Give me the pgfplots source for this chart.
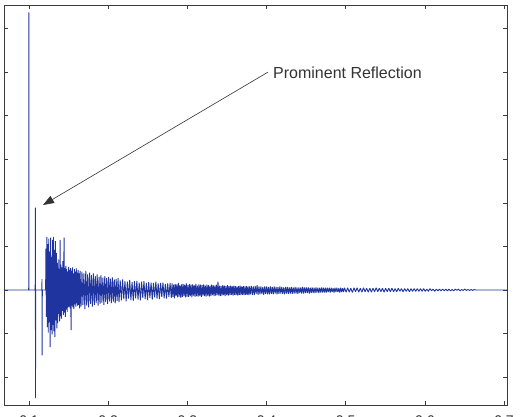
\documentclass[border=0pt]{standalone}
\usepackage{pgfplots}
\pgfplotsset{compat=1.18}
\usepackage{fontspec}
\setmainfont{Liberation Sans}
\usetikzlibrary{arrows.meta}
\definecolor{sig}{RGB}{32,52,160}
\definecolor{axc}{RGB}{60,60,60}
\begin{document}
\begin{tikzpicture}
\begin{axis}[
  at={(0,0)}, anchor=south west,
  scale only axis, width=503pt, height=400pt,
  xmin=0.0684, xmax=0.7038, ymin=-2.64, ymax=6.54,
  xtick={0.1,0.2,0.3,0.4,0.5,0.6,0.7},
  xticklabels={0.1,0.2,0.3,0.4,0.5,0.6,0.7},
  ytick={-2,-1,0,1,2,3,4,5,6},
  yticklabels={},
  tick align=inside, tick pos=both,
  major tick length=4pt,
  axis line style={axc, line width=0.8pt},
  every tick/.style={axc, line width=0.6pt},
  /pgf/number format/assume math mode=true,
  xticklabel style={font=\fontsize{14}{16}\selectfont, text=black!80, yshift=-7pt},
  clip mode=individual,
]
\addplot[sig, line width=0.9pt, line join=bevel] coordinates {
(0.0684,0) (0.0996,0) (0.0998,6.37) (0.1000,0) (0.1078,0) (0.1080,1.89) (0.1082,-2.48) (0.1084,0)
(0.1162,0) (0.1164,0.25) (0.1166,-1.50) (0.1168,0) (0.1210,0)
(0.1213,0.95) (0.1219,-0.62) (0.1225,1.22) (0.1231,-0.85) (0.1237,1.05) (0.1243,-0.98)
(0.1249,1.18) (0.1255,-0.74) (0.1261,0.88) (0.1267,-1.31) (0.1273,1.20) (0.1279,-0.92)
(0.1285,0.76) (0.1291,-1.02) (0.1297,1.15) (0.1303,-0.80) (0.1309,1.22) (0.1315,-0.95)
(0.1321,0.92) (0.1327,-1.08) (0.1333,1.12) (0.1339,-0.70) (0.1345,0.85) (0.1351,-0.88)
(0.1357,0.62) (0.1363,-0.76) (0.1369,0.70) (0.1375,-0.55) (0.1381,0.48) (0.1387,-0.72)
(0.1392,1.15) (0.1397,-0.60) (0.1403,0.58) (0.1409,-0.66) (0.1415,0.52) (0.1421,-0.48)
(0.1427,0.66) (0.1433,-0.58) (0.1439,0.45) (0.1443,1.20) (0.1447,-0.52) (0.1453,0.50)
(0.1459,-0.62) (0.1465,0.55) (0.1471,-0.45) (0.1477,0.48) (0.1483,-0.50) (0.1489,0.42)
(0.1495,-0.40) (0.1501,0.53) (0.1507,-0.38) (0.1513,0.46) (0.1519,-0.42) (0.1525,0.50)
(0.1531,-0.92) (0.1537,0.44) (0.1543,-0.36) (0.1549,0.52) (0.1555,-0.40) (0.1561,0.38)
(0.1567,-0.44) (0.1573,0.48) (0.1579,-0.33) (0.1585,0.42) (0.1591,-0.38) (0.1597,0.50)
(0.1603,-0.30) (0.1609,0.40) (0.1615,-0.36) (0.1621,0.46) (0.1627,-0.34) (0.1633,0.38)
(0.1639,-0.42) (0.1645,0.44)
(0.1657,-0.38) (0.1669,0.42) (0.1681,-0.34) (0.1693,0.38) (0.1705,-0.44) (0.1717,0.44)
(0.1729,-0.36) (0.1741,0.36) (0.1753,-0.40) (0.1765,0.40) (0.1777,-0.32) (0.1789,0.34)
(0.1801,-0.38) (0.1813,0.38) (0.1825,-0.34) (0.1837,0.32) (0.1849,-0.30) (0.1861,0.36)
(0.1873,-0.36) (0.1885,0.30) (0.1897,-0.32) (0.1909,0.34) (0.1921,-0.29) (0.1933,0.28)
(0.1945,-0.34) (0.1957,0.32) (0.1969,-0.28) (0.1981,0.27) (0.1993,-0.32) (0.2005,0.30)
(0.2017,-0.26) (0.2029,0.26) (0.2041,-0.30) (0.2053,0.29) (0.2065,-0.27) (0.2077,0.24)
(0.2089,-0.31) (0.2101,0.25) (0.2113,-0.25) (0.2125,0.27) (0.2137,-0.28)
(0.2152,0.22) (0.2167,-0.24) (0.2182,0.24) (0.2197,-0.21) (0.2212,0.20) (0.2227,-0.26)
(0.2242,0.19) (0.2257,-0.20) (0.2272,0.23) (0.2287,-0.23) (0.2302,0.18) (0.2317,-0.25)
(0.2332,0.20) (0.2347,-0.19) (0.2362,0.21) (0.2377,-0.22) (0.2392,0.17) (0.2407,-0.24)
(0.2422,0.19) (0.2437,-0.18) (0.2452,0.20) (0.2467,-0.21) (0.2482,0.16) (0.2497,-0.23)
(0.2512,0.18) (0.2527,-0.18) (0.2542,0.17) (0.2557,-0.22) (0.2572,0.16) (0.2587,-0.17)
(0.2602,0.19) (0.2617,-0.20) (0.2632,0.15) (0.2647,-0.21) (0.2662,0.16) (0.2677,-0.16)
(0.2692,0.17) (0.2707,-0.19) (0.2722,0.14) (0.2737,-0.20) (0.2752,0.15) (0.2767,-0.16)
(0.2782,0.16) (0.2797,-0.18)
(0.2807,0.15) (0.2817,-0.16) (0.2827,0.12) (0.2837,-0.19) (0.2847,0.14) (0.2857,-0.14)
(0.2867,0.13) (0.2877,-0.17) (0.2887,0.16) (0.2897,-0.15) (0.2907,0.11) (0.2917,-0.18)
(0.2927,0.13) (0.2937,-0.16) (0.2947,0.14) (0.2957,-0.14) (0.2967,0.12) (0.2977,-0.17)
(0.2987,0.15) (0.2997,-0.15) (0.3007,0.11) (0.3017,-0.16) (0.3027,0.14) (0.3037,-0.14)
(0.3047,0.12) (0.3057,-0.17) (0.3067,0.13) (0.3077,-0.13) (0.3087,0.11) (0.3097,-0.16)
(0.3107,0.14) (0.3117,-0.14) (0.3127,0.10) (0.3137,-0.15) (0.3147,0.13) (0.3157,-0.14)
(0.3167,0.12) (0.3177,-0.16) (0.3187,0.11) (0.3197,-0.13) (0.3207,0.13) (0.3217,-0.14)
(0.3227,0.10) (0.3237,-0.15) (0.3247,0.12) (0.3257,-0.13) (0.3267,0.11) (0.3277,-0.15)
(0.3287,0.10) (0.3297,-0.14) (0.3307,0.12) (0.3317,-0.12) (0.3327,0.11) (0.3337,-0.14)
(0.3347,0.10) (0.3357,-0.13) (0.3367,0.12) (0.3377,-0.12) (0.3387,0.19) (0.3397,-0.13)
(0.3407,0.10) (0.3417,-0.14) (0.3427,0.09) (0.3437,-0.13) (0.3447,0.11) (0.3457,-0.12)
(0.3467,0.10) (0.3477,-0.14) (0.3487,0.09) (0.3497,-0.12) (0.3507,0.11) (0.3517,-0.13)
(0.3527,0.09) (0.3537,-0.12) (0.3547,0.10) (0.3557,-0.11) (0.3567,0.09) (0.3577,-0.13)
(0.3587,0.10) (0.3597,-0.11) (0.3607,0.09) (0.3617,-0.12) (0.3627,0.08) (0.3637,-0.13)
(0.3647,0.09) (0.3657,-0.11) (0.3667,0.10) (0.3677,-0.12) (0.3687,0.08) (0.3697,-0.11)
(0.3707,0.09) (0.3717,-0.12) (0.3727,0.08) (0.3737,-0.11) (0.3747,0.09) (0.3757,-0.11)
(0.3767,0.08) (0.3777,-0.12) (0.3787,0.08) (0.3797,-0.10)
(0.3809,0.09) (0.3821,-0.11) (0.3833,0.08) (0.3845,-0.12) (0.3857,0.09) (0.3869,-0.09)
(0.3881,0.11) (0.3893,-0.11) (0.3905,0.08) (0.3917,-0.10) (0.3929,0.08) (0.3941,-0.09)
(0.3953,0.07) (0.3965,-0.11) (0.3977,0.08) (0.3989,-0.09) (0.4001,0.08) (0.4013,-0.10)
(0.4025,0.07) (0.4037,-0.10) (0.4049,0.08) (0.4061,-0.09) (0.4073,0.07) (0.4085,-0.10)
(0.4097,0.08) (0.4109,-0.08) (0.4121,0.07) (0.4133,-0.10) (0.4145,0.07) (0.4157,-0.09)
(0.4169,0.08) (0.4181,-0.08) (0.4193,0.07) (0.4205,-0.09) (0.4217,0.06) (0.4229,-0.10)
(0.4241,0.07) (0.4253,-0.08) (0.4265,0.07) (0.4277,-0.09) (0.4289,0.06) (0.4301,-0.08)
(0.4313,0.07) (0.4325,-0.09) (0.4337,0.06) (0.4349,-0.08) (0.4361,0.07) (0.4373,-0.08)
(0.4385,0.06) (0.4397,-0.09) (0.4409,0.06) (0.4421,-0.07) (0.4433,0.06) (0.4445,-0.08)
(0.4457,0.07) (0.4469,-0.08) (0.4481,0.06) (0.4493,-0.07) (0.4505,0.06) (0.4517,-0.07)
(0.4529,0.06) (0.4541,-0.08) (0.4553,0.05) (0.4565,-0.07) (0.4577,0.06) (0.4589,-0.07)
(0.4601,0.05) (0.4613,-0.07) (0.4625,0.06) (0.4637,-0.06) (0.4649,0.05) (0.4661,-0.07)
(0.4673,0.05) (0.4685,-0.06) (0.4697,0.06) (0.4709,-0.06) (0.4721,0.05) (0.4733,-0.06)
(0.4745,0.05) (0.4757,-0.06) (0.4769,0.05) (0.4781,-0.05) (0.4793,0.05) (0.4805,-0.06)
(0.4817,0.05) (0.4829,-0.05) (0.4841,0.04) (0.4853,-0.06) (0.4865,0.05) (0.4877,-0.05)
(0.4889,0.05) (0.4901,-0.05) (0.4913,0.04) (0.4925,-0.06) (0.4937,0.05) (0.4949,-0.05)
(0.4961,0.04) (0.4973,-0.05) (0.4985,0.05)
(0.5005,-0.05) (0.5025,0.05) (0.5045,-0.05) (0.5065,0.04) (0.5085,-0.06) (0.5105,0.05)
(0.5125,-0.04) (0.5145,0.05) (0.5165,-0.05) (0.5185,0.04) (0.5205,-0.05) (0.5225,0.05)
(0.5245,-0.04) (0.5265,0.04) (0.5285,-0.05) (0.5305,0.04) (0.5325,-0.05) (0.5345,0.04)
(0.5365,-0.04) (0.5385,0.05) (0.5405,-0.04) (0.5425,0.04) (0.5445,-0.04) (0.5465,0.04)
(0.5485,-0.05) (0.5505,0.04) (0.5525,-0.04) (0.5545,0.04) (0.5565,-0.04) (0.5585,0.04)
(0.5605,-0.04) (0.5625,0.03) (0.5645,-0.04) (0.5665,0.04) (0.5685,-0.03) (0.5705,0.03)
(0.5725,-0.04) (0.5745,0.03) (0.5765,-0.03) (0.5785,0.03) (0.5805,-0.04) (0.5825,0.03)
(0.5845,-0.03) (0.5865,0.03) (0.5885,-0.03) (0.5905,0.03) (0.5925,-0.03) (0.5945,0.03)
(0.5965,-0.03) (0.5985,0.03) (0.6005,-0.03) (0.6025,0.02) (0.6045,-0.03) (0.6065,0.03)
(0.6085,-0.02) (0.6105,0.02) (0.6125,-0.03) (0.6145,0.02) (0.6165,-0.02) (0.6185,0.02)
(0.6205,-0.02) (0.6225,0.02) (0.6245,-0.02) (0.6265,0.02) (0.6285,-0.02) (0.6305,0.02)
(0.6325,-0.02) (0.6345,0.01) (0.6365,-0.02) (0.6385,0.02) (0.6405,-0.01) (0.6425,0.02)
(0.6445,-0.02) (0.6465,0.01) (0.6485,-0.01) (0.6505,0.02) (0.6525,-0.01) (0.6545,0.01)
(0.6565,-0.01) (0.6585,0.01) (0.6605,-0.01) (0.6625,0.01) (0.6645,0.00) (0.6700,0.00)
(0.7040,0.00)
};
\draw[black!80, line width=0.6pt, -{Triangle[length=11pt,width=8pt]}]
  (axis cs:0.4019,5.00) -- (axis cs:0.1177,1.95);
\node[anchor=base west, inner sep=0pt, text=black!80,
  font=\fontsize{16}{18}\selectfont] at (axis cs:0.4082,4.862) {Prominent Reflection};
\end{axis}
\pgfresetboundingbox
\useasboundingbox (-4pt,-12pt) rectangle (516pt,405pt);
\end{tikzpicture}
\end{document}
